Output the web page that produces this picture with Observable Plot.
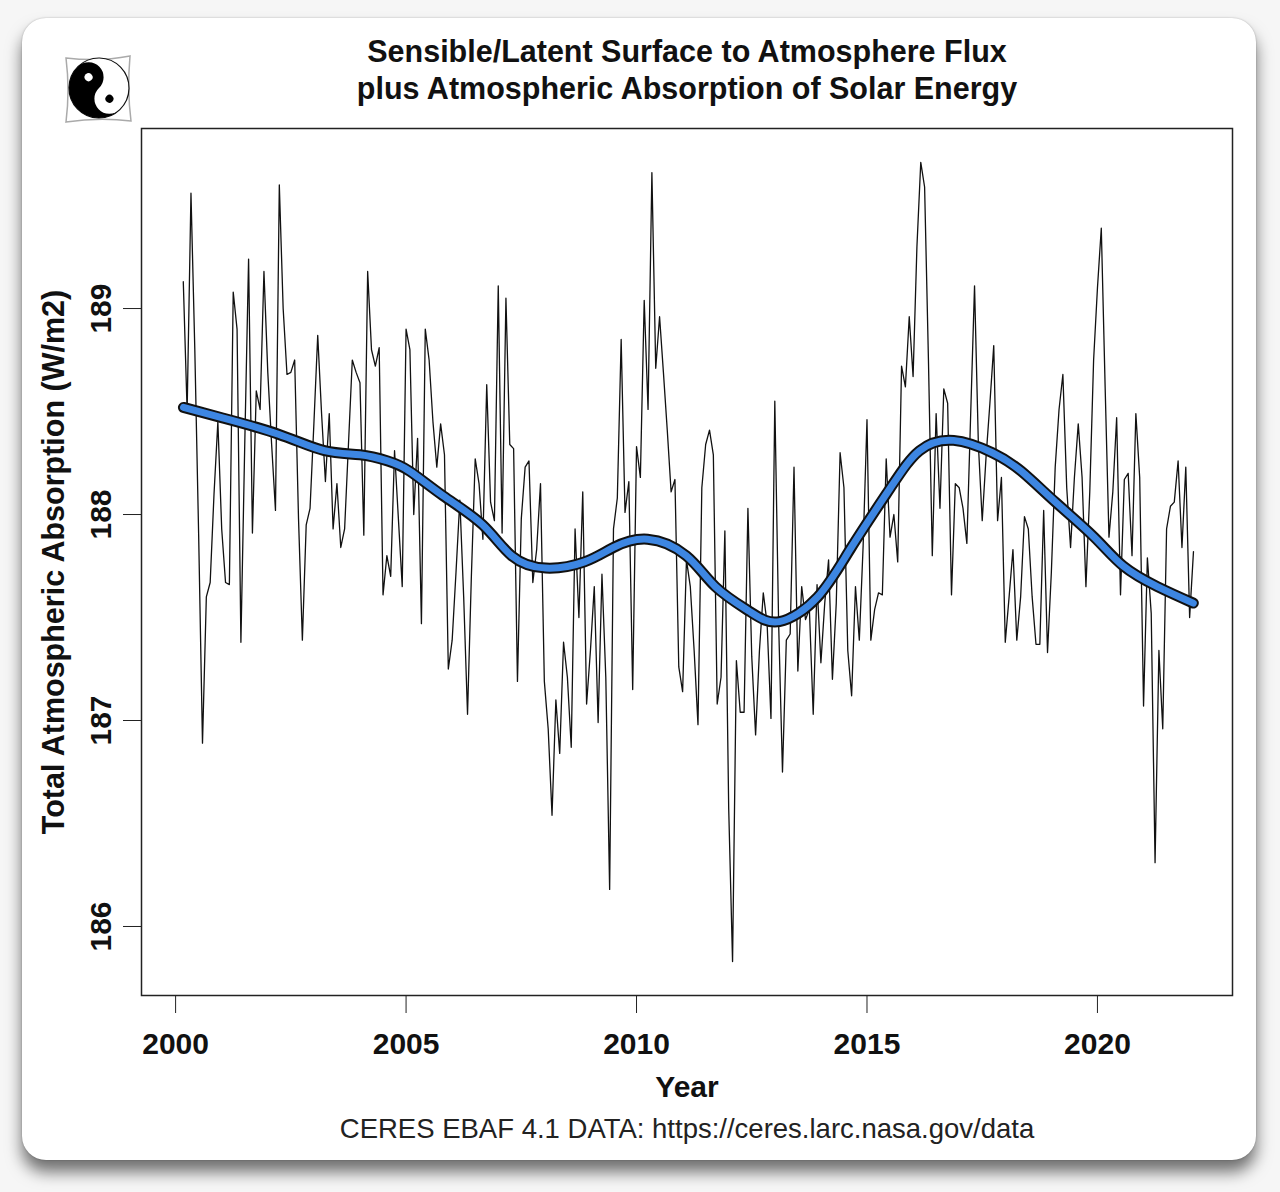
<!DOCTYPE html>
<html>
<head>
<meta charset="utf-8">
<script src="https://cdn.jsdelivr.net/npm/d3@7"></script>
<script src="https://cdn.jsdelivr.net/npm/@observablehq/plot@0.6"></script>
<style>
  html, body { margin: 0; padding: 0; background: #f6f6f6; }
  #page { position: relative; width: 1280px; height: 1192px; overflow: hidden;
          font-family: "Liberation Sans", Arial, Helvetica, sans-serif; }
  #card { position: absolute; left: 22px; top: 18px; width: 1234px; height: 1142px;
          background: #fff; border-radius: 24px;
          box-shadow: 0 12px 16px rgba(0,0,0,0.55), 0 0 2px rgba(0,0,0,0.25); }
  #title { position: absolute; left: 687px; top: 33px; transform: translateX(-50%);
           white-space: nowrap; text-align: center; font-weight: bold; font-size: 30.5px;
           line-height: 37px; color: #111; }
  #logo { position: absolute; left: 58px; top: 48px; }
  #chart { position: absolute; left: 0; top: 0; }
</style>
</head>
<body>
<div id="page">
  <div id="card"></div>
  <svg id="logo" width="84" height="84" viewBox="58 48 84 84">
    <path d="M66,58 Q99,62 130,56 Q127,90 131,121 Q99,117 66,122 Q70,90 66,58 Z"
          fill="#fff" stroke="#aaa" stroke-width="1.5"/>
    <g transform="translate(99,88) rotate(-44)">
      <circle r="30" fill="#fff" stroke="#111" stroke-width="1.2"/>
      <path d="M0,-30 A30,30 0 0,0 0,30 A15,15 0 0,1 0,0 A15,15 0 0,0 0,-30 Z" fill="#000"/>
      <circle cx="0" cy="-15" r="4" fill="#fff"/>
      <circle cx="0" cy="15" r="4" fill="#000"/>
    </g>
  </svg>
  <div id="title">Sensible/Latent Surface to Atmosphere Flux<br>plus Atmospheric Absorption of Solar Energy</div>
  <div id="chart"></div>
</div>
<script>
// Monthly total atmospheric absorption (W/m2), March 2000 .. February 2022
const startYear = 2000;
const startMonth = 3;
const absorption = [
  189.13, 188.50, 189.56, 188.80, 187.90, 186.89, 187.60, 187.67, 188.10, 188.45, 187.93, 187.67,
  187.66, 189.08, 188.90, 187.38, 188.34, 189.24, 187.91, 188.60, 188.51, 189.18, 188.69, 188.34,
  188.02, 189.60, 189.00, 188.68, 188.69, 188.75, 187.98, 187.39, 187.95, 188.03, 188.44, 188.87,
  188.49, 188.16, 188.49, 187.93, 188.15, 187.84, 187.93, 188.34, 188.75, 188.69, 188.64, 187.90,
  189.18, 188.80, 188.72, 188.81, 187.61, 187.80, 187.70, 188.31, 187.98, 187.65, 188.90, 188.80,
  188.00, 188.37, 187.47, 188.90, 188.75, 188.45, 188.23, 188.44, 188.29, 187.25, 187.39, 187.72,
  188.07, 187.60, 187.03, 187.70, 188.27, 188.15, 187.88, 188.63, 188.06, 187.97, 189.11, 187.91,
  189.05, 188.34, 188.32, 187.19, 187.98, 188.23, 188.26, 187.67, 187.83, 188.15, 187.19, 186.96,
  186.54, 187.10, 186.84, 187.38, 187.21, 186.87, 187.93, 187.50, 188.11, 187.08, 187.34, 187.65,
  186.99, 187.71, 187.21, 186.18, 187.93, 188.08, 188.85, 188.01, 188.16, 187.15, 188.33, 188.18,
  189.04, 188.51, 189.66, 188.71, 188.96, 188.69, 188.41, 188.11, 188.17, 187.26, 187.14, 187.78,
  187.65, 187.34, 186.98, 188.13, 188.34, 188.41, 188.29, 187.08, 187.21, 187.92, 186.57, 185.83,
  187.29, 187.04, 187.04, 188.03, 187.31, 186.93, 187.34, 187.62, 187.47, 187.01, 188.55, 187.47,
  186.75, 187.39, 187.42, 188.23, 187.24, 187.65, 187.49, 187.54, 187.03, 187.66, 187.28, 187.57,
  187.78, 187.20, 187.57, 188.30, 188.13, 187.34, 187.12, 187.65, 187.39, 187.85, 188.46, 187.39,
  187.54, 187.62, 187.61, 188.27, 187.89, 188.00, 187.77, 188.72, 188.62, 188.96, 188.67, 189.30,
  189.71, 189.59, 188.75, 187.80, 188.49, 188.03, 188.61, 188.54, 187.61, 188.15, 188.13, 188.03,
  187.86, 188.49, 189.11, 188.34, 187.97, 188.28, 188.54, 188.82, 187.97, 188.18, 187.38, 187.60,
  187.83, 187.39, 187.60, 187.99, 187.93, 187.60, 187.37, 187.37, 188.02, 187.33, 187.72, 188.23,
  188.51, 188.68, 188.13, 187.84, 188.18, 188.44, 188.18, 187.65, 188.11, 188.75, 189.10, 189.39,
  188.62, 187.89, 188.11, 188.47, 187.61, 188.17, 188.20, 187.80, 188.49, 188.18, 187.07, 187.79,
  187.52, 186.31, 187.34, 186.96, 187.93, 188.04, 188.06, 188.26, 187.84, 188.23, 187.50, 187.82
];

// Smoothed trend
const smoothYears = [2000.17, 2001.0, 2002.23, 2003.23, 2004.0, 2004.6, 2005.08, 2005.81, 2006.66, 2007.29,
  2008.03, 2008.87, 2009.5, 2010.24, 2011.08, 2011.71, 2012.45, 2013.1, 2013.93, 2014.66,
  2015.51, 2016.14, 2016.88, 2017.72, 2018.35, 2019.09, 2019.93, 2020.56, 2021.3, 2022.08];
const smoothValues = [188.52, 188.47, 188.39, 188.31, 188.29, 188.26, 188.21, 188.09, 187.95, 187.80,
  187.74, 187.77, 187.84, 187.88, 187.80, 187.65, 187.53, 187.48, 187.60, 187.84,
  188.13, 188.31, 188.36, 188.30, 188.21, 188.06, 187.89, 187.75, 187.65, 187.57];

const xTicks = [2000, 2005, 2010, 2015, 2020];
const yTicks = [186, 187, 188, 189];
const xLabel = "Year";
const yLabel = "Total Atmospheric Absorption (W/m2)";
const caption = "CERES EBAF 4.1 DATA: https://ceres.larc.nasa.gov/data";

const series = absorption.map((v, i) => ({t: startYear + (startMonth - 1 + i) / 12, v}));
const smooth = smoothYears.map((t, i) => ({t, v: smoothValues[i]}));

const font = '"Liberation Sans", Arial, Helvetica, sans-serif';

const chart = Plot.plot({
  width: 1280,
  height: 1192,
  marginLeft: 141, marginRight: 48, marginTop: 128, marginBottom: 197,
  x: {domain: [1999.26, 2022.93], axis: null},
  y: {domain: [185.665, 189.874], axis: null},
  style: {fontFamily: font, background: "transparent", color: "#111", overflow: "visible"},
  marks: [
    Plot.line(series, {x: "t", y: "v", stroke: "#111", strokeWidth: 1.3}),
    Plot.line(smooth, {x: "t", y: "v", stroke: "#111", strokeWidth: 11, curve: "natural", strokeLinecap: "round"}),
    Plot.line(smooth, {x: "t", y: "v", stroke: "#3d86e2", strokeWidth: 7, curve: "natural", strokeLinecap: "round"}),
    Plot.frame({stroke: "#222", strokeWidth: 1.5}),
    Plot.axisX(xTicks, {tickSize: 18, tickPadding: 19, fontSize: 30, fontWeight: "bold",
      tickFormat: d => String(d), stroke: "#222", fill: "#111", label: null}),
    Plot.axisY(yTicks, {tickSize: 18, tickFormat: () => "", stroke: "#222", label: null}),
    Plot.text(yTicks, {y: d => d, frameAnchor: "left", dx: -31, rotate: -90, text: d => String(d),
      fontSize: 30, fontWeight: "bold", textAnchor: "middle", lineAnchor: "bottom", fill: "#111"}),
    Plot.text([yLabel], {frameAnchor: "left", dx: -78, rotate: -90, text: d => d,
      fontSize: 30.5, fontWeight: "bold", textAnchor: "middle", lineAnchor: "bottom", fill: "#111"}),
    Plot.text([xLabel], {frameAnchor: "bottom", dy: 101, text: d => d,
      fontSize: 30, fontWeight: "bold", lineAnchor: "bottom", fill: "#111"}),
    Plot.text([caption], {frameAnchor: "bottom", dy: 142, text: d => d,
      fontSize: 27.5, lineAnchor: "bottom", fill: "#222"})
  ]
});
document.getElementById("chart").appendChild(chart);
</script>
</body>
</html>
